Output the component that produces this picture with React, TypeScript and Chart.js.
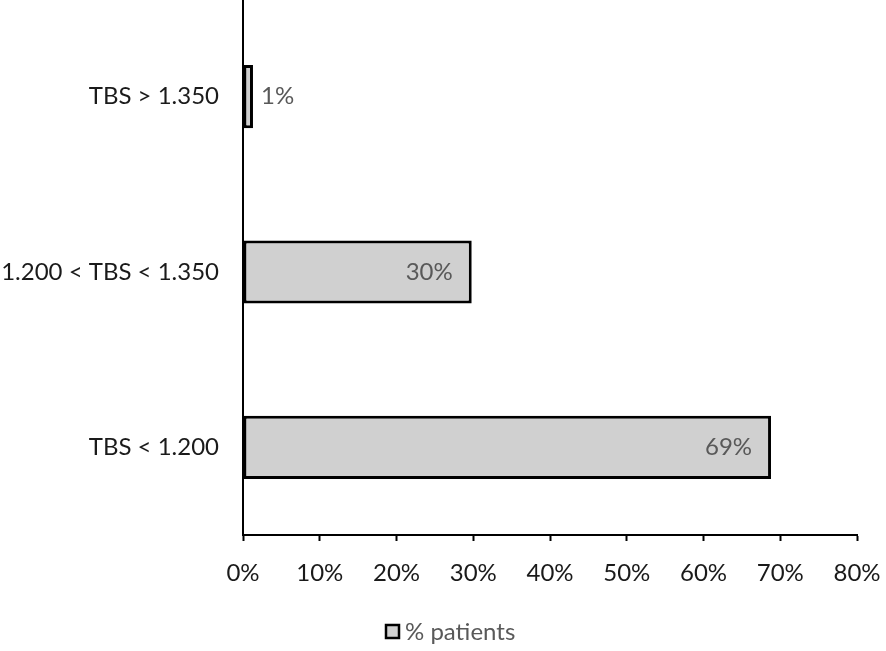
import React, { useEffect, useRef } from "react";
import { Chart, registerables } from "chart.js";

Chart.register(...registerables);

const categories = ["TBS > 1.350", "1.200 < TBS < 1.350", "TBS < 1.200"];
const values = [1.3, 29.8, 68.8];
const valueLabelsText = ["1%", "30%", "69%"];
const seriesName = "% patients";
const xTicks = [0, 10, 20, 30, 40, 50, 60, 70, 80];

const FONT = "Lato, 'Open Sans', sans-serif";

const valueLabels = {
  id: "valueLabels",
  afterDatasetsDraw(chart: any) {
    const { ctx } = chart;
    const meta = chart.getDatasetMeta(0);
    ctx.save();
    ctx.font = `24px ${FONT}`;
    ctx.fillStyle = "#595959";
    ctx.textBaseline = "middle";
    meta.data.forEach((bar: any, i: number) => {
      const text = valueLabelsText[i];
      const w = ctx.measureText(text).width;
      const inside = bar.x - bar.base > w + 24;
      if (inside) {
        ctx.textAlign = "right";
        ctx.fillText(text, bar.x - 19, bar.y);
      } else {
        ctx.textAlign = "left";
        ctx.fillText(text, bar.x + 8, bar.y);
      }
    });
    ctx.restore();
  },
};

const axisExtend = {
  id: "axisExtend",
  afterDraw(chart: any) {
    const { ctx, chartArea } = chart;
    ctx.save();
    ctx.strokeStyle = "#000";
    ctx.lineWidth = 2;
    ctx.beginPath();
    ctx.moveTo(chartArea.left, 0);
    ctx.lineTo(chartArea.left, chartArea.top + 1);
    ctx.stroke();
    ctx.restore();
  },
};

const bottomLegend = {
  id: "bottomLegend",
  afterDraw(chart: any) {
    const { ctx } = chart;
    const ds = chart.data.datasets[0];
    const cy = 632;
    const bx = 386;
    ctx.save();
    ctx.fillStyle = ds.backgroundColor;
    ctx.fillRect(bx, cy - 7, 13, 13);
    ctx.strokeStyle = "#000";
    ctx.lineWidth = 2.5;
    ctx.strokeRect(bx, cy - 7, 13, 13);
    ctx.font = `24px ${FONT}`;
    ctx.fillStyle = "#595959";
    ctx.textAlign = "left";
    ctx.textBaseline = "middle";
    ctx.fillText(ds.label, bx + 19, cy);
    ctx.restore();
  },
};

export default function App() {
  const ref = useRef<HTMLCanvasElement>(null);
  useEffect(() => {
    if (!ref.current) return;
    const chart = new Chart(ref.current, {
      type: "bar",
      data: {
        labels: categories,
        datasets: [
          {
            label: seriesName,
            data: values,
            backgroundColor: "#d0d0d0",
            borderColor: "#000",
            borderWidth: 3,
            borderSkipped: false,
            categoryPercentage: 0.36,
            barPercentage: 1,
          },
        ],
      },
      options: {
        indexAxis: "y",
        animation: false,
        responsive: true,
        maintainAspectRatio: false,
        layout: { padding: { left: 0, right: 29, top: 0, bottom: 33 } },
        scales: {
          x: {
            min: 0,
            max: 80,
            afterBuildTicks(scale: any) {
              scale.ticks = xTicks.map((v) => ({ value: v }));
            },
            afterFit(scale: any) {
              scale.height = 83;
            },
            ticks: {
              callback: (v: any) => `${v}%`,
              color: "#1a1a1a",
              font: { family: FONT, size: 24, lineHeight: 2.67 },
              padding: 0,
              maxRotation: 0,
            },
            grid: {
              drawOnChartArea: false,
              drawTicks: true,
              tickLength: 6,
              tickWidth: 2,
              tickColor: "#000",
            },
            border: { color: "#000", width: 2 },
          },
          y: {
            afterFit(scale: any) {
              scale.width = 243;
            },
            ticks: {
              color: "#1a1a1a",
              font: { family: FONT, size: 24, lineHeight: 0.75 },
              padding: 0,
            },
            grid: {
              drawOnChartArea: false,
              drawTicks: true,
              tickLength: 24,
              tickColor: "rgba(0,0,0,0)",
            },
            border: { color: "#000", width: 2 },
          },
        },
        plugins: {
          legend: { display: false },
          tooltip: { enabled: false },
        },
      },
      plugins: [valueLabels, axisExtend, bottomLegend],
    });
    return () => chart.destroy();
  }, []);
  return (
    <div style={{ position: "fixed", left: 0, top: 0, width: 886, height: 651, background: "#fff" }}>
      <canvas ref={ref} />
    </div>
  );
}
